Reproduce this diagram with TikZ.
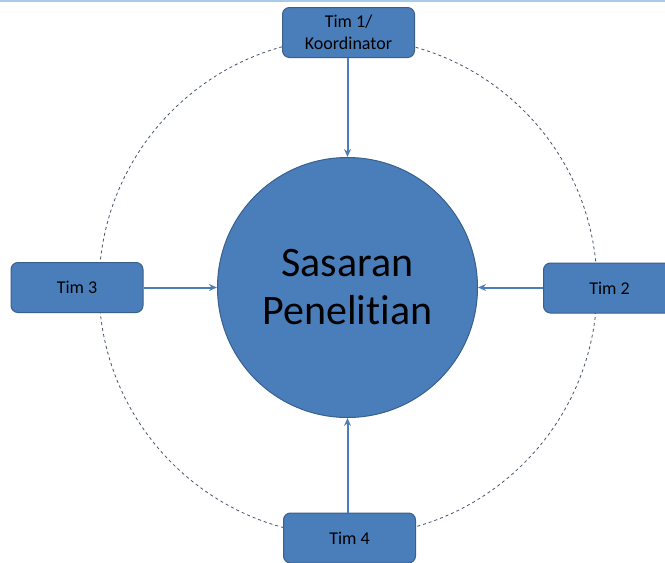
\documentclass[tikz,border=0pt]{standalone}
\usepackage{fontspec}
\setmainfont[Ligatures=NoCommon]{Carlito}
\usetikzlibrary{arrows.meta}
\definecolor{boxfill}{HTML}{4A7EBB}
\definecolor{boxedge}{HTML}{3A5F8C}
\definecolor{topline}{HTML}{A9CBEA}
\definecolor{dashcol}{HTML}{44546A}
\tikzset{
  teambox/.style={draw=boxedge, line width=1pt, fill=boxfill, rounded corners=7pt,
    minimum width=132pt, minimum height=50pt, inner sep=0pt, align=center,
    font=\fontsize{18}{22}\selectfont, text=black},
  target/.style={circle, draw=boxedge, line width=1pt, fill=boxfill, minimum size=260pt,
    inner sep=0pt, align=center, font=\fontsize{42}{48}\selectfont, text=black},
  link/.style={draw=boxfill, line width=2pt, -{Stealth[length=8pt,width=7pt]}},
  orbit/.style={draw=dashcol, line width=0.8pt, dash pattern=on 3pt off 3pt}
}
\begin{document}
\begin{tikzpicture}[x=1pt,y=-1pt]
\useasboundingbox (0,0) rectangle (665,563);
\fill[white] (0,0) rectangle (665,563);
\draw[topline, line width=2pt] (0,0.5) -- (665,0.5);
\draw[orbit] (348,287) circle (249);
\node[target] (c) at (347.5,287.5) {Sasaran\\Penelitian};
\node[teambox] (t1) at (348.5,32.5) {Tim 1/\\Koordinator};
\node[teambox] (t2) at (609.5,288) {Tim 2};
\node[teambox] (t3) at (77,287.5) {Tim 3};
\node[teambox] (t4) at (349.5,538) {Tim 4};
\draw[link] (t1.south -| c.north) -- (c.north);
\draw[link] (t2.west |- c.east) -- (c.east);
\draw[link] (t3.east |- c.west) -- (c.west);
\draw[link] (t4.north -| c.south) -- (c.south);
\end{tikzpicture}
\end{document}
